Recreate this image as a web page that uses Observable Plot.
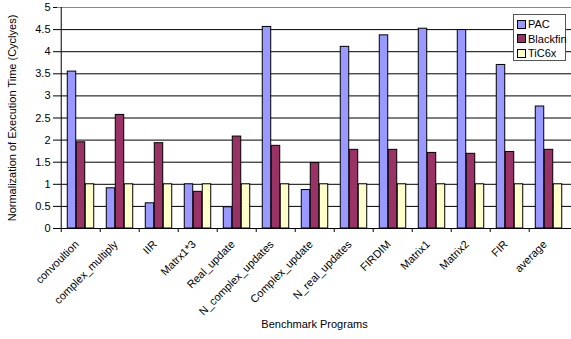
<!DOCTYPE html>
<html>
<head>
<meta charset="utf-8">
<script src="https://cdn.jsdelivr.net/npm/d3@7"></script>
<script src="https://cdn.jsdelivr.net/npm/@observablehq/plot@0.6"></script>
<style>
  html, body { margin: 0; padding: 0; background: #fff; overflow: hidden; }
  #wrap { position: relative; width: 571px; height: 339px; font-family: "Liberation Sans", Arial, sans-serif; }
  #legend { position: absolute; left: 513px; top: 14px; width: 53px; height: 47px; border: 1px solid #555; background: #fff; font-size: 11px; color: #000; box-sizing: border-box; padding: 2px 0 0 3px; }
  .item { display: flex; align-items: center; height: 14.5px; white-space: nowrap; }
  .sw { width: 7px; height: 7px; border: 1px solid #000; margin-right: 2px; flex: none; }
</style>
</head>
<body>
<div id="wrap"><div id="chart"></div><div id="legend"></div></div>
<script>
const categories = ["convoultion","complex_multiply","IIR","Matrx1*3","Real_update","N_complex_updates","Complex_update","N_real_updates","FIRDIM","Matrix1","Matrix2","FIR","average"];
const seriesNames = ["PAC","Blackfin","TiC6x"];
const pac      = [3.55, 0.91, 0.57, 1.00, 0.48, 4.56, 0.87, 4.11, 4.37, 4.52, 4.49, 3.70, 2.76];
const blackfin = [1.95, 2.57, 1.93, 0.83, 2.08, 1.87, 1.48, 1.78, 1.78, 1.71, 1.69, 1.73, 1.78];
const tic6x    = [1, 1, 1, 1, 1, 1, 1, 1, 1, 1, 1, 1, 1];
const yTicks   = [0, 0.5, 1, 1.5, 2, 2.5, 3, 3.5, 4, 4.5, 5];
const colors   = ["#9999FF", "#993366", "#FFFFCC"];

const seriesValues = [pac, blackfin, tic6x];
const W = 571, H = 339, mL = 57, mR = 0, mT = 7, mB = 111;
const step = (W - mL - mR) / categories.length;
const barW = 9;
const inset = (step - barW) / 2;
const font = "Liberation Sans, Arial, sans-serif";

const barMarks = seriesNames.map((s, si) => {
  const data = categories.map((c, i) => ({cat: c, value: seriesValues[si][i]}));
  return Plot.barY(data, {
    x: "cat", y: "value", fill: colors[si], stroke: "#000", strokeWidth: 1,
    insetLeft: inset, insetRight: inset, dx: (si - 1) * barW
  });
});

const chart = Plot.plot({
  width: W, height: H,
  marginLeft: mL, marginRight: mR, marginTop: mT, marginBottom: mB,
  style: {fontFamily: font, fontSize: "11px", color: "#000", background: "#fff"},
  x: {domain: categories, padding: 0, label: null, axis: null},
  y: {domain: [0, 5], label: null},
  marks: [
    Plot.ruleY(yTicks.filter(t => t > 0 && t < 5), {y: d => d, stroke: "#000", strokeWidth: 1}),
    Plot.ruleY([5], {stroke: "#888", strokeWidth: 1.2}),
    ...barMarks,
    Plot.axisY({ticks: yTicks, tickSize: 4, tickPadding: 3, label: null, tickFormat: d => String(d), fontSize: 11}),
    Plot.ruleX([0], {x: () => categories[0], frameAnchor: "left", dx: -step / 2, stroke: "#000"}),
    Plot.ruleY([0], {stroke: "#000"}),
    Plot.axisX({ticks: categories, tickSize: 4, text: null, label: null, dx: -step / 2}),
    Plot.text(categories, {x: d => d, frameAnchor: "bottom", rotate: -45, textAnchor: "end", lineAnchor: "middle", dx: -4, dy: 14, fontSize: 11, fill: "#000"}),
    Plot.text(["Benchmark Programs"], {frameAnchor: "bottom", dy: 99, fontSize: 11, fill: "#000"}),
    Plot.text(["Normalization of Execution Time (Cyclyes)"], {frameAnchor: "left", textAnchor: "middle", dx: -45, rotate: -90, fontSize: 11, fill: "#000"})
  ]
});
document.getElementById("chart").appendChild(chart);

const legend = document.getElementById("legend");
seriesNames.forEach((s, i) => {
  const item = document.createElement("div");
  item.className = "item";
  const sw = document.createElement("span");
  sw.className = "sw";
  sw.style.background = colors[i];
  const t = document.createElement("span");
  t.textContent = s;
  item.appendChild(sw); item.appendChild(t);
  legend.appendChild(item);
});
</script>
</body>
</html>
